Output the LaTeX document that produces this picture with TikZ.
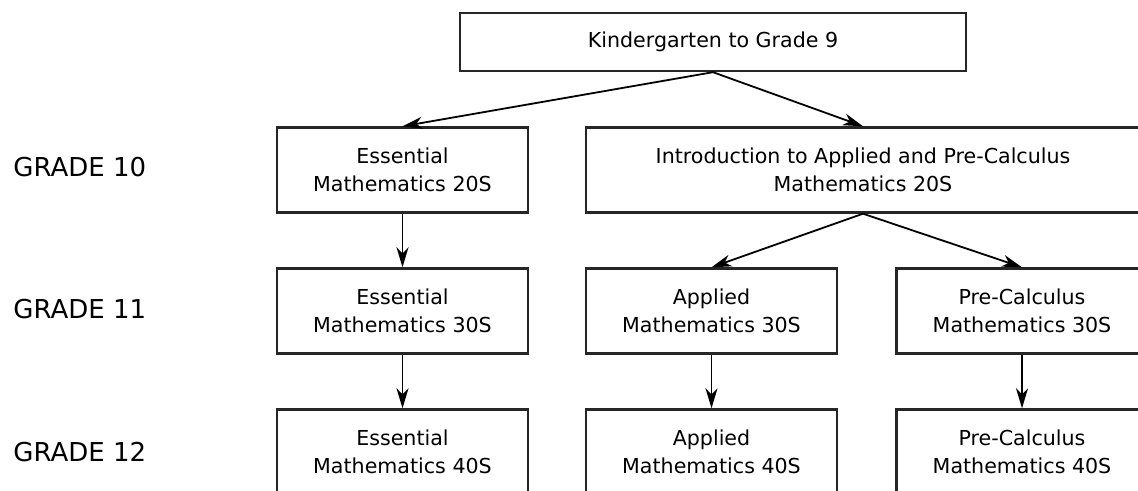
\documentclass[tikz,border=0pt]{standalone}
\usepackage{fontspec}
\setmainfont{DejaVu Sans}
\usepackage{tikz}
\usetikzlibrary{shapes.geometric, arrows, arrows.meta}
\usetikzlibrary{positioning}
\tikzstyle{courseNode} = [
                rectangle,
                minimum width = 125.5pt,
                minimum height = 42.5pt,
                text centered,
                align = center,
                draw = black!85,
                line width = 1.2pt,
                font = \fontsize{10.3pt}{14pt}\selectfont
            ]
\tikzstyle{gradeLabel} = [anchor = west, inner sep = 0pt, font = \fontsize{13pt}{15pt}\selectfont]
\tikzstyle{arrow} = [line width = 0.9pt, ->, >={Stealth[length = 10pt, width = 6pt, inset = 3pt]}]

\begin{document}
\begin{tikzpicture}[x=0.5pt, y=-0.5pt, node distance=70.5pt]
                                \useasboundingbox (0,0) rectangle (1138,491);
                                \clip (0,0) rectangle (1138,491);
                                \node (k9) [courseNode, minimum width = 253pt, minimum height = 29pt] at (713,42) {Kindergarten to Grade 9};
                                \node (ess20) [courseNode, below of=k9, node distance=64pt, xshift = -155.25pt] {Essential\\Mathematics 20S};
                                \node (intro20) [courseNode, below of=k9, node distance=64pt, xshift = 75pt, minimum width = 277pt] {Introduction to Applied and Pre-Calculus\\Mathematics 20S};
                                \node (ess30) [courseNode, below of=ess20] {Essential\\Mathematics 30S};
                                \node (app30) [courseNode, below of=intro20, xshift = -75.75pt] {Applied\\Mathematics 30S};
                                \node (pre30) [courseNode, below of=intro20, xshift = 79.5pt] {Pre-Calculus\\Mathematics 30S};
                                \node (ess40) [courseNode, below of=ess30] {Essential\\Mathematics 40S};
                                \node (app40) [courseNode, below of=app30] {Applied\\Mathematics 40S};
                                \node (pre40) [courseNode, below of=pre30] {Pre-Calculus\\Mathematics 40S};
                                \node (g10) [gradeLabel] at (13,167) {GRADE 10};
                                \node (g11) [gradeLabel] at (13,309) {GRADE 11};
                                \node (g12) [gradeLabel] at (13,452) {GRADE 12};
                                \draw [arrow] (k9.south) -- (ess20.north);
                                \draw [arrow] (k9.south) -- (intro20.north);
                                \draw [arrow] (ess20) -- (ess30);
                                \draw [arrow] (intro20.south) -- (app30.north);
                                \draw [arrow] (intro20.south) -- (pre30.north);
                                \draw [arrow] (ess30) -- (ess40);
                                \draw [arrow] (app30) -- (app40);
                                \draw [arrow] (pre30) -- (pre40);
                            \end{tikzpicture}
\end{document}
